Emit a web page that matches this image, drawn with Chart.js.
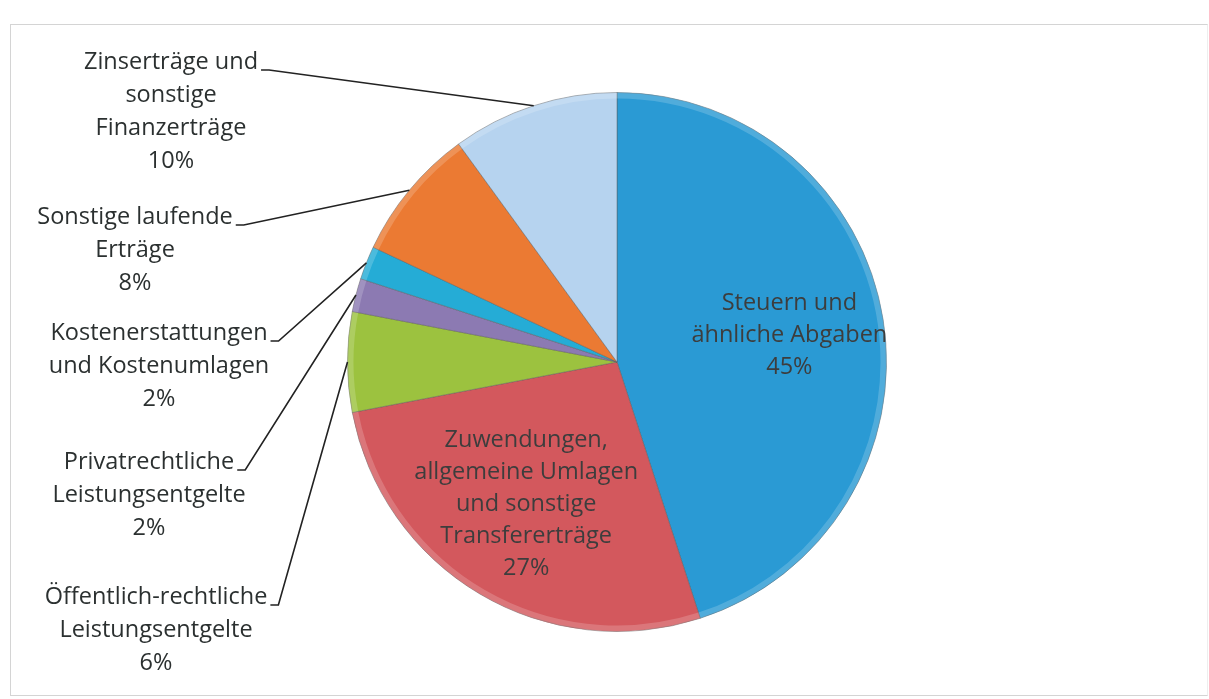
<!DOCTYPE html>
<html>
<head>
<meta charset="utf-8">
<script src="https://cdn.jsdelivr.net/npm/chart.js@4.4.0/dist/chart.umd.min.js"></script>
<style>
html,body{margin:0;padding:0;background:#fff;}
#frame{position:absolute;left:10px;top:24px;width:1196px;height:670px;border:1px solid #d4d4d4;border-right-color:#eee;}
#pie{position:absolute;left:0;top:0;}
</style>
</head>
<body>
<div id="frame"></div>
<canvas id="pie" width="1209" height="699"></canvas>
<script>
// categories, each split into the lines shown in the picture
const categories = [
  ["Steuern und", "ähnliche Abgaben"],
  ["Zuwendungen,", "allgemeine Umlagen", "und sonstige", "Transfererträge"],
  ["Öffentlich-rechtliche", "Leistungsentgelte"],
  ["Privatrechtliche", "Leistungsentgelte"],
  ["Kostenerstattungen", "und Kostenumlagen"],
  ["Sonstige laufende", "Erträge"],
  ["Zinserträge und", "sonstige", "Finanzerträge"]
];
const shares = [45, 27, 6, 2, 2, 8, 10];
const colors = ["#2a9ad4", "#d3585d", "#9cc23f", "#8c7ab2", "#25acd6", "#eb7a33", "#b6d3ef"];

// where the outside labels sit (block centre x, first line y); null = inside the slice
const outsidePos = [null, null, {x:156, y:597}, {x:149, y:462}, {x:159, y:333}, {x:135, y:217}, {x:171, y:62}];
// small nudges for the labels inside the slices
const insideShift = [{dx:2, dy:0}, {dx:-3, dy:-6}];

const FONT = "23.5px 'Open Sans'";
const LINE_H = 33;

const labelPlugin = {
  id: "pieLabels",
  afterDatasetsDraw(chart) {
    const ctx = chart.ctx;
    const arcs = chart.getDatasetMeta(0).data;
    ctx.save();
    ctx.font = FONT;
    ctx.textAlign = "center";
    ctx.textBaseline = "middle";
    arcs.forEach((arc, i) => {
      const p = arc.getProps(["x", "y", "startAngle", "endAngle", "outerRadius"], true);
      const mid = (p.startAngle + p.endAngle) / 2;
      const lines = categories[i].concat([shares[i] + "%"]);
      const pos = outsidePos[i];
      if (!pos) {
        const r = p.outerRadius * 0.64;
        const cx = p.x + Math.cos(mid) * r + insideShift[i].dx;
        const cy = p.y + Math.sin(mid) * r + insideShift[i].dy;
        const lh = 32;
        const top = cy - (lines.length - 1) * lh / 2;
        ctx.fillStyle = "#3d3d3d";
        lines.forEach((t, k) => ctx.fillText(t, cx, top + k * lh));
        return;
      }
      ctx.fillStyle = "#2b3030";
      lines.forEach((t, k) => ctx.fillText(t, pos.x, pos.y + k * LINE_H));
      // leader line
      const w = ctx.measureText(lines[0]).width;
      const sx = pos.x + w / 2 + 3, sy = pos.y + 8;
      const ex = p.x + Math.cos(mid) * p.outerRadius;
      const ey = p.y + Math.sin(mid) * p.outerRadius;
      ctx.strokeStyle = "#222";
      ctx.lineWidth = 1.6;
      ctx.beginPath();
      ctx.moveTo(sx, sy);
      ctx.lineTo(sx + 8, sy);
      ctx.lineTo(ex, ey);
      ctx.stroke();
    });
    ctx.restore();
  }
};

// light rim along the outer edge, like the bevel in the picture
const rimPlugin = {
  id: "rim",
  afterDatasetDraw(chart) {
    const ctx = chart.ctx;
    chart.getDatasetMeta(0).data.forEach(arc => {
      const p = arc.getProps(["x", "y", "startAngle", "endAngle", "outerRadius"], true);
      ctx.save();
      ctx.beginPath();
      ctx.moveTo(p.x, p.y);
      ctx.arc(p.x, p.y, p.outerRadius, p.startAngle, p.endAngle);
      ctx.closePath();
      ctx.clip();
      ctx.strokeStyle = "rgba(255,255,255,0.18)";
      ctx.lineWidth = 6;
      ctx.beginPath();
      ctx.arc(p.x, p.y, p.outerRadius - 3, p.startAngle, p.endAngle);
      ctx.stroke();
      ctx.restore();
    });
  }
};

new Chart(document.getElementById("pie").getContext("2d"), {
  type: "pie",
  data: {
    labels: categories.map(c => c.join(" ")),
    datasets: [{
      data: shares,
      backgroundColor: colors,
      borderColor: "rgba(90,90,90,0.45)",
      borderWidth: 1
    }]
  },
  options: {
    responsive: false,
    animation: false,
    layout: { padding: { left: 347, right: 322, top: 92, bottom: 67 } },
    plugins: { legend: { display: false }, tooltip: { enabled: false } }
  },
  plugins: [rimPlugin, labelPlugin]
});
</script>
</body>
</html>
